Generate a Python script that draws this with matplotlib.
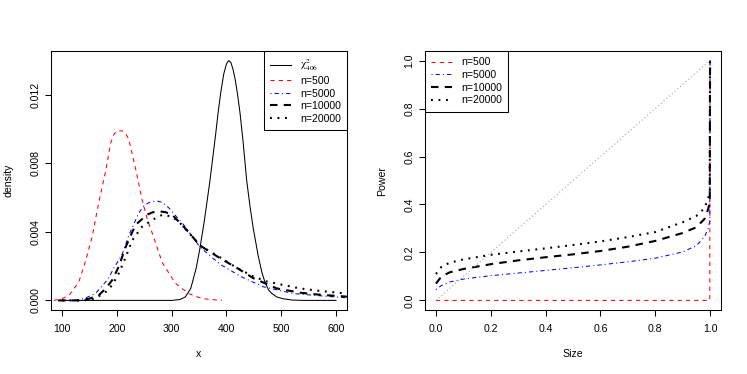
import numpy as np
import matplotlib
matplotlib.use("Agg")
import matplotlib.pyplot as plt
from matplotlib.lines import Line2D

plt.rcParams['font.family'] = ['Liberation Sans', 'DejaVu Sans']
plt.rcParams['mathtext.fontset'] = 'stix'

# ---- left panel: densities ----
chi_x = [100, 300, 315, 325, 335, 345, 352, 360, 370, 380, 385, 390, 395, 400, 404, 408, 412, 416, 420,
         425, 430, 437, 443, 449, 458, 465, 470, 477, 483, 492, 503, 520, 540, 600]
chi_y = [0, 0, 0.00005, 0.0002, 0.0007, 0.0019, 0.0031, 0.0047, 0.0070, 0.0096, 0.0110, 0.0122, 0.0132,
         0.0138, 0.0140, 0.0139, 0.0135, 0.0129, 0.0121, 0.0109, 0.0094, 0.0070, 0.0055, 0.0042, 0.0026,
         0.0016, 0.0011, 0.0006, 0.0004, 0.0002, 0.0001, 0.00002, 0, 0]

n500_x = [85, 100, 113, 120, 131, 143, 155, 167, 180, 189, 195, 200, 205, 210, 215, 222, 235, 246, 256,
          265, 283, 307, 331, 356, 392]
n500_y = [0, 0.0001, 0.0003, 0.0006, 0.0011, 0.0023, 0.0037, 0.0057, 0.0076, 0.0092, 0.0097, 0.0099,
          0.0099, 0.0099, 0.0098, 0.0094, 0.0076, 0.0059, 0.0047, 0.0039, 0.0022, 0.0010, 0.0004, 0.0001, 0]

n5000_x = [95, 120, 140, 161, 183, 195, 210, 222, 240, 249, 258, 266, 274, 283, 295, 325, 352, 389, 426,
           467, 522, 571, 620]
n5000_y = [0, 0, 0.0001, 0.0004, 0.0012, 0.0019, 0.0027, 0.0038, 0.0051, 0.0055, 0.0057, 0.00578,
           0.0058, 0.00572, 0.0054, 0.0043, 0.0031, 0.0021, 0.0014, 0.0008, 0.0004, 0.00027, 0.00015]

n10000_x = [93, 130, 150, 167, 180, 192, 204, 216, 234, 255, 266, 277, 289, 301, 325, 352, 389, 419, 449,
            492, 534, 571, 620]
n10000_y = [0, 0, 0.0001, 0.0003, 0.0007, 0.0012, 0.0020, 0.0031, 0.0044, 0.0050, 0.00515, 0.0052,
            0.00515, 0.0050, 0.0042, 0.0032, 0.00245, 0.0019, 0.0013, 0.0007, 0.00045, 0.00033, 0.00022]

n20000_x = [100, 140, 160, 180, 192, 204, 216, 228, 246, 265, 283, 300, 313, 330, 352, 389, 419, 449,
            474, 534, 571, 620]
n20000_y = [0, 0, 0.0001, 0.0005, 0.0009, 0.0016, 0.0025, 0.0035, 0.0043, 0.0047, 0.0050, 0.0049,
            0.0046, 0.0040, 0.0032, 0.0025, 0.0019, 0.0014, 0.0011, 0.0007, 0.00055, 0.0004]

# ---- right panel: size vs power ----
size = [0, 0.02, 0.05, 0.1, 0.2, 0.3, 0.4, 0.5, 0.6, 0.7, 0.8, 0.9, 0.95, 0.98, 0.993, 0.999, 1.0]
power_500 = [0] * 16 + [1.0]
power_5000 = [0.045, 0.062, 0.077, 0.089, 0.103, 0.114, 0.125, 0.136, 0.148, 0.161, 0.176, 0.202,
              0.228, 0.265, 0.300, 0.330, 1.0]
power_10000 = [0.070, 0.100, 0.117, 0.131, 0.151, 0.167, 0.180, 0.192, 0.206, 0.224, 0.248, 0.281,
               0.305, 0.340, 0.380, 0.410, 1.0]
power_20000 = [0.110, 0.140, 0.157, 0.171, 0.190, 0.204, 0.217, 0.231, 0.246, 0.264, 0.285, 0.326,
               0.352, 0.385, 0.425, 0.450, 1.0]
diag = [0, 1]

labels = ['n=500', 'n=5000', 'n=10000', 'n=20000']

# line styles mimicking R lty 2 / 4 / 2(lwd2) / 3(lwd2)
styles = [
    dict(color='red', lw=0.75, dashes=(4, 4)),
    dict(color='blue', lw=0.75, dashes=(1, 3, 4, 3)),
    dict(color='black', lw=1.5, dashes=(3.6, 3.0)),
    dict(color='black', lw=1.5, dashes=(0.9, 2.7)),
]

FS = 7.6

fig = plt.figure(figsize=(7.47, 3.74), dpi=100)
ax1 = fig.add_axes([51 / 747, 64 / 374, 296 / 747, 259 / 374])
ax2 = fig.add_axes([425 / 747, 64 / 374, 296 / 747, 259 / 374])


def style_axes(ax):
    for sp in ax.spines.values():
        sp.set_linewidth(0.75)
        sp.set_color('black')
    ax.tick_params(direction='out', length=4.3, width=0.75, labelsize=FS)
    ax.tick_params(axis='x', pad=6)
    ax.tick_params(axis='y', pad=3.5)
    for lab in ax.get_yticklabels():
        lab.set_rotation(90)
        lab.set_va('center')
    ax.yaxis.set_label_coords(-0.127, 0.5)
    ax.xaxis.set_label_coords(0.5, -0.151)


# left
ax1.plot(chi_x, chi_y, color='black', lw=0.75)
for xs, ys, st in zip([n500_x, n5000_x, n10000_x, n20000_x],
                      [n500_y, n5000_y, n10000_y, n20000_y], styles):
    ax1.plot(xs, ys, **st)
ax1.set_xlim(80, 620)
ax1.set_ylim(-0.00056, 0.01456)
ax1.set_xticks([100, 200, 300, 400, 500, 600])
ax1.set_yticks([0, 0.004, 0.008, 0.012])
ax1.set_yticklabels(['0.000', '0.004', '0.008', '0.012'])
ax1.set_xlabel('x', fontsize=FS)
ax1.set_ylabel('density', fontsize=FS)
style_axes(ax1)

h1 = [Line2D([], [], color='black', lw=0.75)] + [Line2D([], [], **st) for st in styles]
leg1 = ax1.legend(h1, [r'$\mathrm{\chi}^2_{406}$'] + labels, loc='upper right', fontsize=FS,
                  frameon=True, fancybox=False, edgecolor='black', framealpha=1,
                  borderaxespad=0, handlelength=2.0, handletextpad=0.8,
                  labelspacing=0.25, borderpad=0.6)
leg1.get_frame().set_linewidth(0.75)

# right
for pw, st in zip([power_500, power_5000, power_10000, power_20000], styles):
    ax2.plot(size, pw, **st)
ax2.plot(diag, diag, color='#999999', lw=0.75, dashes=(1, 2.5))
ax2.set_xlim(-0.04, 1.04)
ax2.set_ylim(-0.04, 1.04)
ax2.set_xticks(np.arange(0, 1.01, 0.2))
ax2.set_yticks(np.arange(0, 1.01, 0.2))
ax2.set_xticklabels(['0.0', '0.2', '0.4', '0.6', '0.8', '1.0'])
ax2.set_yticklabels(['0.0', '0.2', '0.4', '0.6', '0.8', '1.0'])
ax2.set_xlabel('Size', fontsize=FS)
ax2.set_ylabel('Power', fontsize=FS)
style_axes(ax2)

h2 = [Line2D([], [], **st) for st in styles]
leg2 = ax2.legend(h2, labels, loc='upper left', fontsize=FS,
                  frameon=True, fancybox=False, edgecolor='black', framealpha=1,
                  borderaxespad=0, handlelength=2.0, handletextpad=0.8,
                  labelspacing=0.25, borderpad=0.6)
leg2.get_frame().set_linewidth(0.75)

fig.savefig('out.png', dpi=100)
